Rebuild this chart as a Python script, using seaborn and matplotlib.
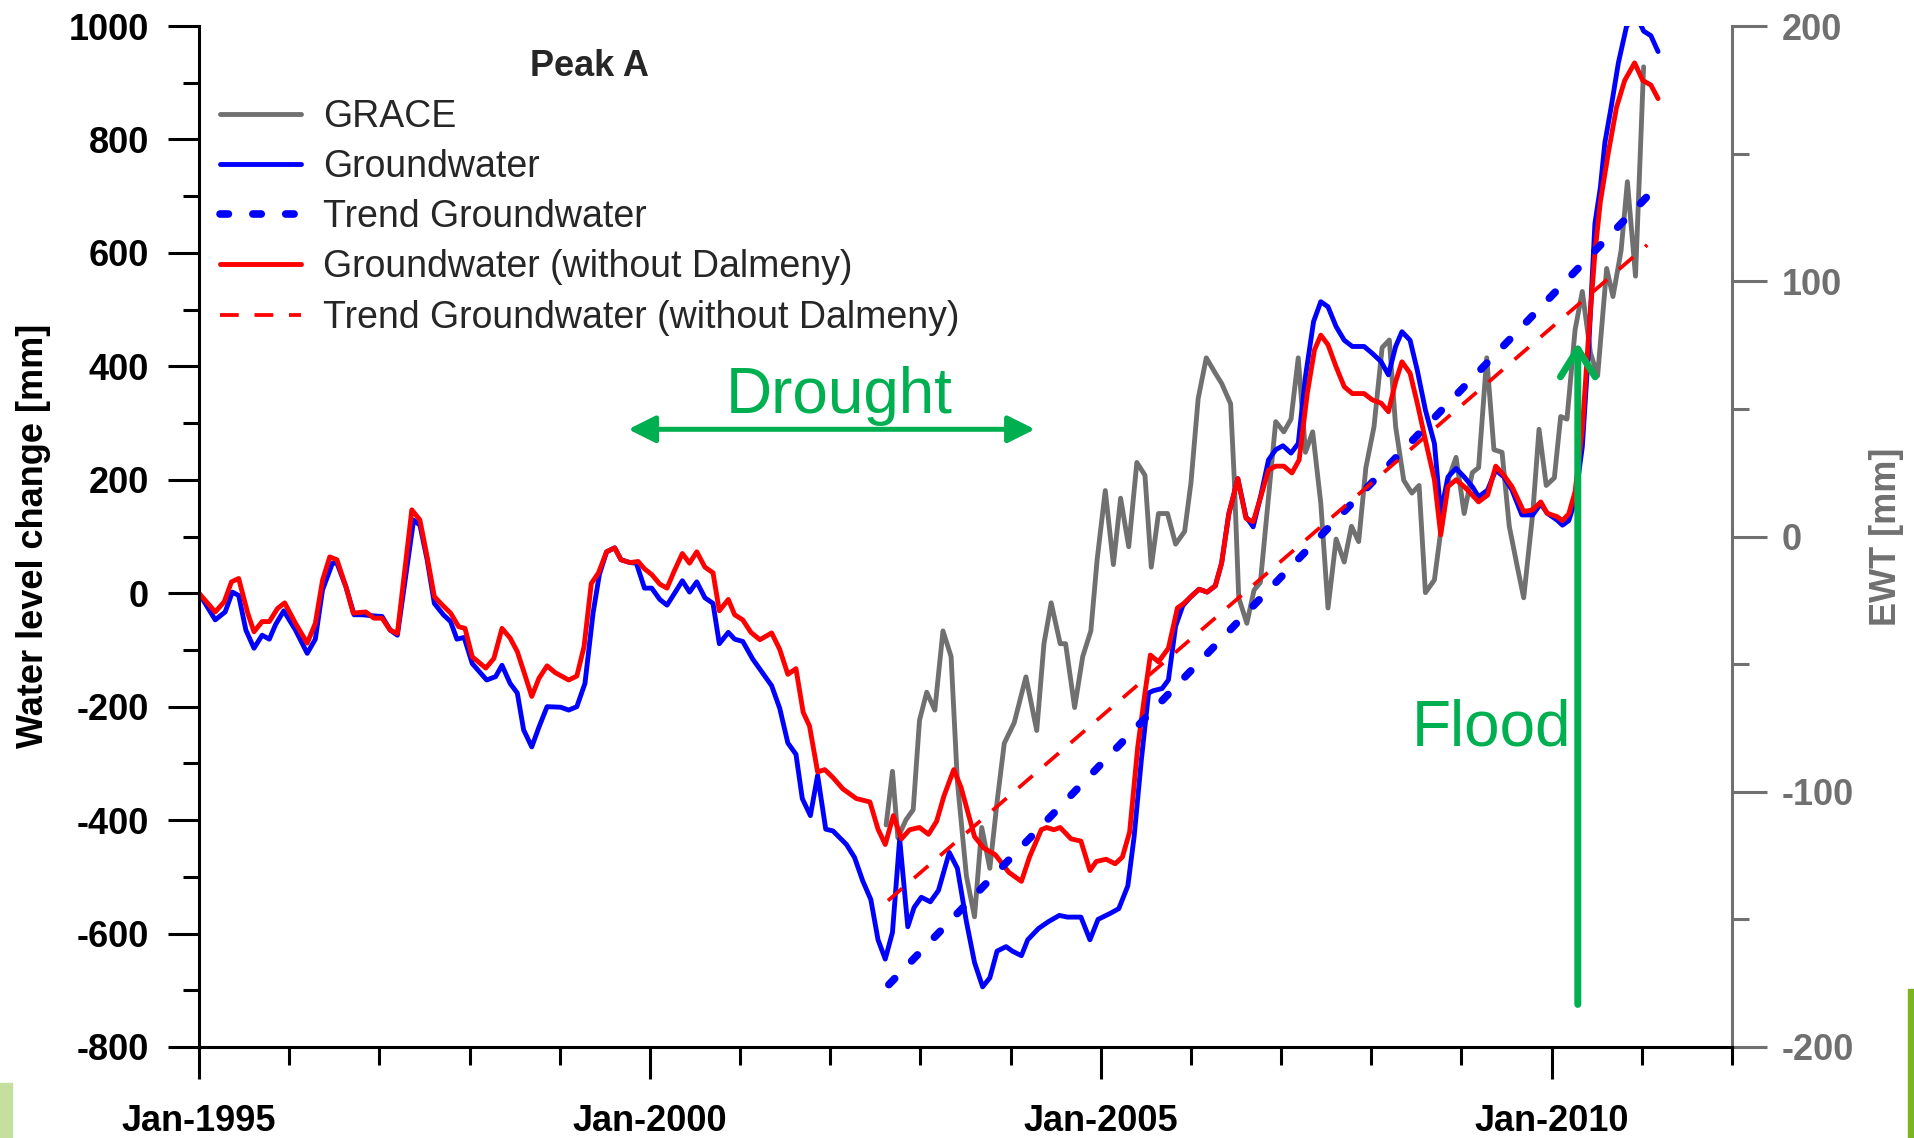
#!/usr/bin/env python3
"""Peak A: groundwater level change vs GRACE EWT, 1995-2011."""
import matplotlib
matplotlib.use("Agg")
import matplotlib.pyplot as plt
from matplotlib.patches import Rectangle, ArrowStyle
from matplotlib.ticker import MultipleLocator, FixedLocator
import seaborn as sns

# --- DATA (decimal years) ---
gw_year = [1995.00, 1995.18, 1995.29, 1995.37, 1995.44, 1995.52, 1995.61, 1995.70, 1995.78, 1995.85,
           1995.94, 1996.07, 1996.20, 1996.29, 1996.37, 1996.48, 1996.53, 1996.63, 1996.72, 1996.81,
           1996.94, 1997.03, 1997.12, 1997.20, 1997.38, 1997.45, 1997.53, 1997.61, 1997.71, 1997.79,
           1997.86, 1997.94, 1998.03, 1998.19, 1998.29, 1998.36, 1998.45, 1998.53, 1998.60, 1998.69,
           1998.77, 1998.86, 1999.01, 1999.10, 1999.19, 1999.28, 1999.37, 1999.44, 1999.52, 1999.61,
           1999.68, 1999.78, 1999.85, 1999.94, 2000.02, 2000.11, 2000.19, 2000.27, 2000.36, 2000.44,
           2000.52, 2000.61, 2000.70, 2000.77, 2000.87, 2000.94, 2001.03, 2001.14, 2001.23, 2001.35,
           2001.44, 2001.53, 2001.62, 2001.69, 2001.78, 2001.86, 2001.95, 2002.03, 2002.18, 2002.27,
           2002.36, 2002.45, 2002.53, 2002.61, 2002.69, 2002.77, 2002.86, 2002.93, 2003.01, 2003.11,
           2003.20, 2003.32, 2003.41, 2003.51, 2003.60, 2003.69, 2003.77, 2003.85, 2003.95, 2004.02,
           2004.12, 2004.19, 2004.31, 2004.42, 2004.54, 2004.63, 2004.78, 2004.88, 2004.97, 2005.11,
           2005.20, 2005.30, 2005.37, 2005.45, 2005.53, 2005.58, 2005.68, 2005.75, 2005.83, 2005.91,
           2006.00, 2006.09, 2006.18, 2006.27, 2006.34, 2006.42, 2006.52, 2006.61, 2006.69, 2006.78,
           2006.86, 2006.94, 2007.02, 2007.11, 2007.19, 2007.27, 2007.36, 2007.44, 2007.52, 2007.61,
           2007.70, 2007.79, 2007.92, 2008.01, 2008.11, 2008.19, 2008.27, 2008.34, 2008.43, 2008.51,
           2008.60, 2008.70, 2008.77, 2008.85, 2008.94, 2009.03, 2009.12, 2009.19, 2009.29, 2009.38,
           2009.47, 2009.56, 2009.67, 2009.79, 2009.88, 2009.95, 2010.06, 2010.12, 2010.19, 2010.26,
           2010.34, 2010.41, 2010.48, 2010.54, 2010.59, 2010.66, 2010.74, 2010.83, 2010.93, 2011.02,
           2011.10, 2011.18]
gw_mm = [0, -47, -33, 2, -4, -65, -97, -74, -81, -55,
         -31, -65, -106, -81, 6, 53, 53, 11, -38, -38,
         -40, -41, -65, -74, 129, 120, 59, -18, -38, -50,
         -81, -78, -124, -153, -147, -127, -159, -176, -241, -271,
         -236, -200, -201, -206, -200, -159, -35, 33, 73, 80,
         59, 54, 53, 9, 9, -11, -21, -1, 22, 2,
         20, -8, -18, -89, -69, -81, -85, -116, -136, -163,
         -203, -264, -284, -362, -392, -321, -416, -419, -443, -466,
         -507, -540, -611, -645, -598, -433, -588, -554, -536, -544,
         -524, -457, -485, -579, -651, -694, -678, -631, -623, -631,
         -639, -611, -591, -579, -568, -571, -571, -611, -575, -564,
         -556, -516, -429, -294, -176, -172, -168, -153, -58, -22,
         -6, 7, 2, 13, 53, 140, 202, 135, 117, 176,
         235, 253, 260, 247, 264, 382, 479, 514, 505, 470,
         446, 435, 435, 423, 408, 385, 435, 461, 446, 393,
         323, 264, 141, 205, 220, 205, 188, 170, 182, 217,
         205, 182, 138, 138, 158, 141, 129, 120, 128, 163,
         258, 431, 652, 715, 794, 857, 935, 999, 1022, 991,
         983, 955]

gwnd_year = [1995.00, 1995.18, 1995.28, 1995.36, 1995.44, 1995.54, 1995.61, 1995.70, 1995.78, 1995.87,
             1995.95, 1996.07, 1996.20, 1996.29, 1996.37, 1996.45, 1996.53, 1996.63, 1996.71, 1996.85,
             1996.94, 1997.03, 1997.12, 1997.20, 1997.36, 1997.45, 1997.53, 1997.61, 1997.70, 1997.79,
             1997.88, 1997.95, 1998.03, 1998.18, 1998.27, 1998.36, 1998.45, 1998.53, 1998.62, 1998.69,
             1998.77, 1998.86, 1998.95, 1999.10, 1999.19, 1999.27, 1999.35, 1999.43, 1999.52, 1999.61,
             1999.68, 1999.78, 1999.87, 1999.94, 2000.02, 2000.11, 2000.19, 2000.27, 2000.36, 2000.44,
             2000.52, 2000.61, 2000.70, 2000.77, 2000.87, 2000.94, 2001.03, 2001.12, 2001.22, 2001.35,
             2001.44, 2001.53, 2001.62, 2001.70, 2001.77, 2001.86, 2001.94, 2002.03, 2002.14, 2002.29,
             2002.44, 2002.53, 2002.61, 2002.70, 2002.79, 2002.88, 2002.99, 2003.09, 2003.18, 2003.26,
             2003.37, 2003.45, 2003.60, 2003.70, 2003.83, 2003.98, 2004.12, 2004.21, 2004.34, 2004.40,
             2004.48, 2004.55, 2004.67, 2004.78, 2004.88, 2004.95, 2005.06, 2005.16, 2005.24, 2005.32,
             2005.41, 2005.49, 2005.55, 2005.64, 2005.75, 2005.85, 2005.92, 2006.00, 2006.09, 2006.18,
             2006.27, 2006.34, 2006.42, 2006.52, 2006.61, 2006.69, 2006.78, 2006.86, 2006.94, 2007.03,
             2007.12, 2007.20, 2007.29, 2007.37, 2007.44, 2007.52, 2007.61, 2007.70, 2007.79, 2007.92,
             2008.01, 2008.11, 2008.19, 2008.27, 2008.34, 2008.43, 2008.51, 2008.60, 2008.70, 2008.77,
             2008.85, 2008.94, 2009.03, 2009.12, 2009.19, 2009.29, 2009.38, 2009.47, 2009.56, 2009.69,
             2009.79, 2009.88, 2009.95, 2010.06, 2010.12, 2010.19, 2010.26, 2010.34, 2010.41, 2010.48,
             2010.54, 2010.63, 2010.72, 2010.81, 2010.92, 2011.01, 2011.10, 2011.18]
gwnd_mm = [0, -33, -15, 20, 26, -35, -68, -50, -50, -27,
           -17, -53, -88, -53, 23, 64, 59, 11, -35, -33,
           -44, -44, -65, -71, 147, 129, 64, -6, -21, -35,
           -59, -62, -112, -132, -115, -62, -79, -103, -147, -182,
           -150, -128, -140, -153, -146, -94, 17, 36, 73, 80,
           59, 54, 56, 43, 33, 16, 9, 39, 70, 53,
           73, 46, 36, -31, -11, -38, -47, -69, -82, -70,
           -99, -143, -133, -210, -234, -315, -311, -325, -345, -362,
           -368, -416, -443, -392, -433, -417, -413, -425, -402, -358,
           -311, -342, -429, -449, -461, -492, -508, -465, -417, -413,
           -417, -413, -433, -437, -489, -473, -469, -477, -465, -421,
           -271, -176, -109, -121, -97, -26, -18, -6, 7, 2,
           13, 53, 140, 202, 132, 126, 173, 217, 224, 224,
           212, 235, 352, 429, 455, 438, 399, 364, 352, 352,
           341, 335, 320, 373, 408, 388, 335, 270, 200, 103,
           188, 200, 188, 173, 161, 173, 224, 208, 188, 144,
           147, 161, 141, 135, 128, 140, 179, 289, 455, 600,
           690, 778, 857, 904, 935, 904, 896, 872]

grace_year = [2002.62, 2002.69, 2002.75, 2002.84, 2002.92, 2002.99, 2003.07, 2003.16, 2003.25, 2003.34,
              2003.41, 2003.51, 2003.60, 2003.68, 2003.77, 2003.85, 2003.93, 2004.04, 2004.17, 2004.29,
              2004.37, 2004.45, 2004.55, 2004.61, 2004.71, 2004.80, 2004.89, 2004.96, 2005.05, 2005.14,
              2005.22, 2005.31, 2005.40, 2005.49, 2005.56, 2005.64, 2005.74, 2005.83, 2005.93, 2006.00,
              2006.08, 2006.17, 2006.27, 2006.34, 2006.44, 2006.48, 2006.53, 2006.62, 2006.70, 2006.77,
              2006.94, 2007.03, 2007.11, 2007.19, 2007.27, 2007.35, 2007.44, 2007.52, 2007.61, 2007.70,
              2007.78, 2007.86, 2007.94, 2008.03, 2008.12, 2008.20, 2008.27, 2008.36, 2008.45, 2008.53,
              2008.60, 2008.70, 2008.77, 2008.86, 2008.94, 2009.03, 2009.12, 2009.19, 2009.28, 2009.36,
              2009.45, 2009.53, 2009.62, 2009.69, 2009.79, 2009.86, 2009.94, 2010.03, 2010.10, 2010.17,
              2010.26, 2010.34, 2010.43, 2010.51, 2010.61, 2010.68, 2010.77, 2010.84, 2010.93, 2011.02]
grace_ewt = [-113, -92, -118, -111, -107, -72, -61, -68, -37, -47,
             -96, -133, -149, -114, -130, -104, -81, -73, -55, -76,
             -42, -26, -42, -42, -67, -47, -37, -9, 18, -11,
             15, -4, 29, 24, -12, 9, 9, -3, 2, 21,
             54, 70, 64, 60, 52, 23, -24, -34, -21, -18,
             45, 41, 46, 70, 33, 41, 13, -28, -1, -10,
             4, -2, 27, 43, 74, 77, 43, 22, 17, 20,
             -22, -17, 2, 23, 31, 9, 25, 27, 70, 34,
             33, 4, -12, -24, 9, 42, 20, 23, 47, 46,
             81, 96, 72, 63, 105, 94, 112, 139, 102, 184]

trend_gw_year = [2002.65, 2011.13]
trend_gw_mm = [-690, 711]
trend_gwnd_year = [2002.64, 2011.06]
trend_gwnd_mm = [-542, 614]

year_ticks = [1995, 2000, 2005, 2010]
year_labels = ["Jan-1995", "Jan-2000", "Jan-2005", "Jan-2010"]
legend_labels = ["GRACE", "Groundwater", "Trend Groundwater",
                 "Groundwater (without Dalmeny)", "Trend Groundwater (without Dalmeny)"]

# --- STYLE ---
BLUE = "#0000FF"
RED = "#FF0000"
GRAY = "#707070"
GREEN = "#00B050"

sns.set_theme(style="white")
plt.rcParams['font.family'] = ['Liberation Sans', 'DejaVu Sans']
plt.rcParams['font.weight'] = 'bold'
plt.rcParams['axes.unicode_minus'] = False

fig = plt.figure(figsize=(19.15, 11.38), dpi=100)
ax = fig.add_axes([199 / 1915, 1 - 1047 / 1138, (1732 - 199) / 1915, (1047 - 26) / 1138])
ax2 = ax.twinx()
ax.set_zorder(ax2.get_zorder() + 1)
ax.patch.set_visible(False)

# GRACE on the right (EWT) axis
sns.lineplot(x=grace_year, y=grace_ewt, ax=ax2, color=GRAY, linewidth=3.5,
             sort=False, estimator=None)
h_grace = ax2.get_lines()[-1]

sns.lineplot(x=gw_year, y=gw_mm, ax=ax, color=BLUE, linewidth=3.5, sort=False, estimator=None)
h_gw = ax.get_lines()[-1]
sns.lineplot(x=gwnd_year, y=gwnd_mm, ax=ax, color=RED, linewidth=3.5, sort=False, estimator=None)
h_gwnd = ax.get_lines()[-1]

sns.lineplot(x=trend_gw_year, y=trend_gw_mm, ax=ax, color=BLUE, linewidth=5.5,
             sort=False, estimator=None)
h_trend = ax.get_lines()[-1]
h_trend.set_dashes((1.1, 3.2))
h_trend.set_dash_capstyle('round')

sns.lineplot(x=trend_gwnd_year, y=trend_gwnd_mm, ax=ax, color=RED, linewidth=2.7,
             sort=False, estimator=None)
h_trend_nd = ax.get_lines()[-1]
h_trend_nd.set_dashes((5, 4.2))

# --- AXES ---
ax.set_xlim(1995, 2012)
ax.set_ylim(-800, 1000)
ax2.set_ylim(-200, 200)
ax.xaxis.set_major_locator(FixedLocator(year_ticks))
ax.set_xticklabels(year_labels)
ax.xaxis.set_minor_locator(MultipleLocator(1))
ax.yaxis.set_major_locator(MultipleLocator(200))
ax.yaxis.set_minor_locator(MultipleLocator(100))
ax2.yaxis.set_major_locator(MultipleLocator(100))
ax2.yaxis.set_minor_locator(MultipleLocator(50))
ax.set_xlabel("")
ax.set_ylabel("")
ax2.set_ylabel("")

for s in ["top", "right"]:
    ax.spines[s].set_visible(False)
for s in ["top", "left", "bottom"]:
    ax2.spines[s].set_visible(False)
for s in ["left", "bottom"]:
    ax.spines[s].set_color("black")
    ax.spines[s].set_linewidth(2.2)
ax2.spines["right"].set_color(GRAY)
ax2.spines["right"].set_linewidth(2.2)

ax.tick_params(axis="both", which="both", direction="out", bottom=True, left=True,
               top=False, right=False, color="black", width=2.2, labelsize=26,
               labelcolor="black")
ax.tick_params(axis="y", which="major", length=22, pad=14)
ax.tick_params(axis="y", which="minor", length=11.5)
ax.tick_params(axis="x", which="major", length=23, pad=18)
ax.tick_params(axis="x", which="minor", length=13)
ax2.tick_params(axis="y", which="both", direction="out", right=True, left=False,
                color=GRAY, width=2.2, labelsize=26, labelcolor=GRAY)
ax2.tick_params(axis="y", which="major", length=25, pad=11)
ax2.tick_params(axis="y", which="minor", length=12.5)
for lab in ax.get_xticklabels() + ax.get_yticklabels() + ax2.get_yticklabels():
    lab.set_fontweight("bold")

fig.text(34 / 1915, 1 - 536 / 1138, "Water level change [mm]", rotation=90,
         ha="center", va="center", fontsize=26, fontweight="bold", color="black")
fig.text(1887 / 1915, 1 - 537 / 1138, "EWT [mm]", rotation=90,
         ha="center", va="center", fontsize=26, fontweight="bold", color=GRAY)

# --- LEGEND ---
ax.legend([h_grace, h_gw, h_trend, h_gwnd, h_trend_nd], legend_labels,
          loc="upper left", bbox_to_anchor=(0.0137, 0.977), frameon=False,
          prop={"weight": "normal", "size": 27}, title="Peak A",
          title_fontproperties={"weight": "bold", "size": 26},
          handlelength=2.15, handletextpad=0.6, labelspacing=0.38,
          borderpad=0, borderaxespad=0)

# --- ANNOTATIONS ---
ax.annotate("", xy=(2004.27, 289), xytext=(1999.76, 289),
            arrowprops=dict(arrowstyle=ArrowStyle("<|-|>", head_length=0.4, head_width=0.2),
                            mutation_scale=41, color=GREEN, lw=3.6,
                            shrinkA=0, shrinkB=0), zorder=10)
ax.text(2002.10, 317, "Drought", ha="center", va="baseline", fontsize=46,
        fontweight="normal", color=GREEN)
ax.annotate("", xy=(2010.29, 442), xytext=(2010.29, -725),
            arrowprops=dict(arrowstyle=ArrowStyle("->", head_length=0.4, head_width=0.25),
                            mutation_scale=50, color=GREEN, lw=5,
                            shrinkA=0, shrinkB=0), zorder=10)
ax.text(2010.22, -269, "Flood", ha="right", va="baseline", fontsize=46,
        fontweight="normal", color=GREEN)

# slide decoration in the corners
fig.patches.append(Rectangle((0, 0), 12 / 1915, 55 / 1138, transform=fig.transFigure,
                             color="#C5DF9F", zorder=0))
fig.patches.append(Rectangle((1908 / 1915, 0), 7 / 1915, 149 / 1138, transform=fig.transFigure,
                             color="#7AB51D", zorder=0))

fig.savefig("out.png", dpi=100)
